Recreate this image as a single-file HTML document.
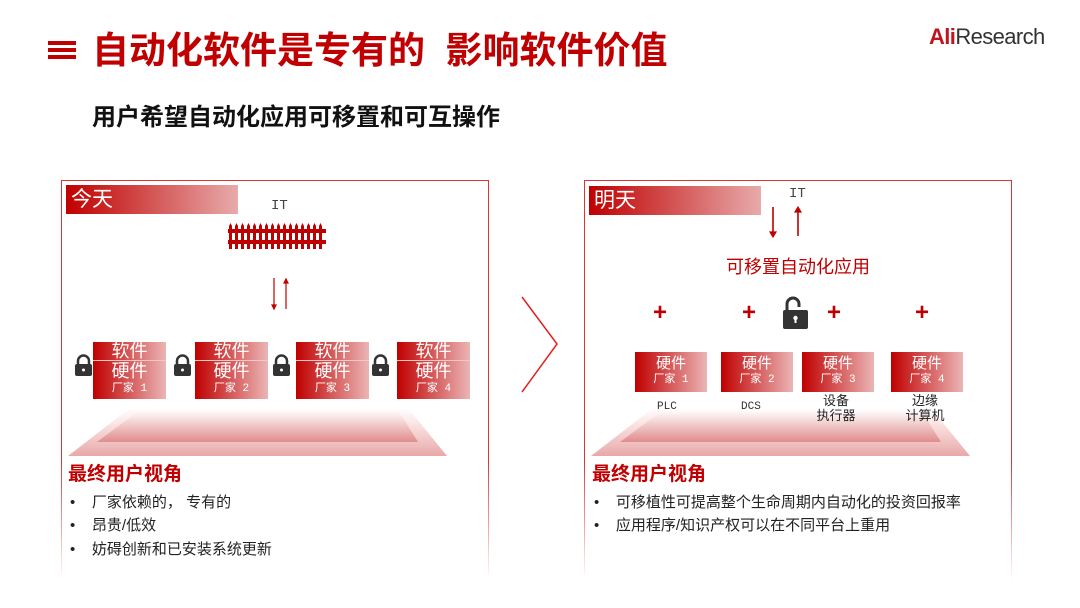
<!DOCTYPE html>
<html><head><meta charset="utf-8"><style>
*{margin:0;padding:0;box-sizing:border-box}
body{width:1080px;height:608px;background:#fff;position:relative;overflow:hidden;font-family:"Liberation Sans","Noto Sans CJK SC",sans-serif}
.a{position:absolute;white-space:nowrap}
.panel{position:absolute;top:180px;width:428px;height:400px;border:1px solid #d33;border-bottom:none;
 -webkit-mask-image:linear-gradient(#000 70%,rgba(0,0,0,0) 100%);mask-image:linear-gradient(#000 70%,rgba(0,0,0,0) 100%)}
.lbl{position:absolute;height:29px;width:172px;background:linear-gradient(90deg,#c00000,#e8aaaa);color:#fff;font-size:21px;line-height:29px;padding-left:5px}
.box{position:absolute;width:73px;background:linear-gradient(90deg,#c00000,#ebb5b5);color:#fff;text-align:center}
.mono{font-family:"Liberation Mono","Noto Sans CJK SC",monospace}
.h{font-size:19px;font-weight:bold;color:#c00000}
.b{font-size:15px;color:#222}
.plus{position:absolute;color:#c00000;font-size:24px;font-weight:bold;line-height:24px}
</style></head><body>
<div class="a" style="left:48px;top:41px;width:28px;height:4px;background:#c00000"></div>
<div class="a" style="left:48px;top:48px;width:28px;height:4px;background:#c00000"></div>
<div class="a" style="left:48px;top:55px;width:28px;height:4px;background:#c00000"></div>
<div class="a" style="left:92px;top:28px;font-size:37px;font-weight:bold;color:#c00000;line-height:46px">自动化软件是专有的&nbsp;&nbsp;影响软件价值</div>
<div class="a" style="left:92px;top:102px;font-size:24px;font-weight:bold;color:#111;line-height:32px">用户希望自动化应用可移置和可互操作</div>
<div class="a" style="left:929px;top:24px;font-size:22px;line-height:26px;color:#333;letter-spacing:-0.6px"><b style="color:#c0141e">Ali</b>Research</div>

<div class="panel" style="left:61px"></div>
<div class="panel" style="left:584px"></div>

<svg class="a" style="left:0;top:0" width="1080" height="608">
 <defs>
  <linearGradient id="tg" x1="0" y1="0" x2="0" y2="1"><stop offset="0" stop-color="#fff"/><stop offset="0.3" stop-color="#fbe6e6"/><stop offset="1" stop-color="#e9a8a8"/></linearGradient>
  <linearGradient id="tg2" x1="0" y1="0" x2="0" y2="1"><stop offset="0" stop-color="#fff"/><stop offset="1" stop-color="#e08c8c"/></linearGradient>
 </defs>
 <polygon points="130,408 408,408 447,456 68,456" fill="url(#tg)"/>
 <polygon points="140,410 398,410 418,442 97,442" fill="url(#tg2)"/>
 <g transform="translate(523,0)">
  <polygon points="130,408 408,408 447,456 68,456" fill="url(#tg)"/>
  <polygon points="140,410 398,410 418,442 97,442" fill="url(#tg2)"/>
 </g>
 <polyline points="522,297 557,344 522,392" fill="none" stroke="#d22" stroke-width="1.5"/>
 <g fill="#c00000">
  <rect x="228" y="229" width="98" height="4"/><rect x="228" y="240" width="98" height="4"/>
  <path d="M229,249 V226 L230.5,223 L232,226 V249Z M235,249 V226 L236.5,223 L238,226 V249Z M241,249 V226 L242.5,223 L244,226 V249Z M247,249 V226 L248.5,223 L250,226 V249Z M253,249 V226 L254.5,223 L256,226 V249Z M259,249 V226 L260.5,223 L262,226 V249Z M265,249 V226 L266.5,223 L268,226 V249Z M271,249 V226 L272.5,223 L274,226 V249Z M277,249 V226 L278.5,223 L280,226 V249Z M283,249 V226 L284.5,223 L286,226 V249Z M289,249 V226 L290.5,223 L292,226 V249Z M295,249 V226 L296.5,223 L298,226 V249Z M301,249 V226 L302.5,223 L304,226 V249Z M307,249 V226 L308.5,223 L310,226 V249Z M313,249 V226 L314.5,223 L316,226 V249Z M319,249 V226 L320.5,223 L322,226 V249Z"/>
 </g>
 <g stroke="#c00000" stroke-width="1.2" fill="#c00000">
  <line x1="274" y1="278" x2="274" y2="306"/><polygon points="272,305 276,305 274,309"/>
  <line x1="286" y1="282" x2="286" y2="309"/><polygon points="284,283 288,283 286,279"/>
  <line x1="773" y1="207" x2="773" y2="233" stroke-width="1.6"/><polygon points="770,232 776,232 773,237"/>
  <line x1="798" y1="211" x2="798" y2="236" stroke-width="1.6"/><polygon points="795,212 801,212 798,207"/>
 </g>
 <g fill="#333">
  <g transform="translate(75,355)"><path d="M3,9 V6 a5.5,5.5 0 0 1 11,0 V9" fill="none" stroke="#333" stroke-width="2.5"/><rect x="0" y="9" width="17" height="12" rx="2"/><circle cx="8.5" cy="15" r="1.5" fill="#fff"/></g>
  <g transform="translate(174,355)"><path d="M3,9 V6 a5.5,5.5 0 0 1 11,0 V9" fill="none" stroke="#333" stroke-width="2.5"/><rect x="0" y="9" width="17" height="12" rx="2"/><circle cx="8.5" cy="15" r="1.5" fill="#fff"/></g>
  <g transform="translate(273,355)"><path d="M3,9 V6 a5.5,5.5 0 0 1 11,0 V9" fill="none" stroke="#333" stroke-width="2.5"/><rect x="0" y="9" width="17" height="12" rx="2"/><circle cx="8.5" cy="15" r="1.5" fill="#fff"/></g>
  <g transform="translate(372,355)"><path d="M3,9 V6 a5.5,5.5 0 0 1 11,0 V9" fill="none" stroke="#333" stroke-width="2.5"/><rect x="0" y="9" width="17" height="12" rx="2"/><circle cx="8.5" cy="15" r="1.5" fill="#fff"/></g>
  <g transform="translate(783,296)"><path d="M4,14 V8 a6,6 0 0 1 12,0 V11" fill="none" stroke="#333" stroke-width="3"/><rect x="0" y="14" width="25" height="19" rx="2"/><circle cx="12.5" cy="22" r="2.2" fill="#fff"/><rect x="11.5" y="22" width="2" height="5" fill="#fff"/></g>
 </g>
</svg>

<div class="lbl" style="left:66px;top:185px">今天</div>
<div class="lbl" style="left:589px;top:186px">明天</div>
<div class="a mono" style="left:271px;top:198px;font-size:14px;color:#444">IT</div>
<div class="a mono" style="left:789px;top:186px;font-size:14px;color:#444">IT</div>

<div class="box" style="left:93px;top:342px;height:57px"><div style="font-size:18px;line-height:18px;border-bottom:1px solid #f0c8c8">软件</div><div style="font-size:18px;line-height:21px">硬件</div><div class="mono" style="font-size:11px;line-height:15px">厂家 1</div></div>
<div class="box" style="left:195px;top:342px;height:57px"><div style="font-size:18px;line-height:18px;border-bottom:1px solid #f0c8c8">软件</div><div style="font-size:18px;line-height:21px">硬件</div><div class="mono" style="font-size:11px;line-height:15px">厂家 2</div></div>
<div class="box" style="left:296px;top:342px;height:57px"><div style="font-size:18px;line-height:18px;border-bottom:1px solid #f0c8c8">软件</div><div style="font-size:18px;line-height:21px">硬件</div><div class="mono" style="font-size:11px;line-height:15px">厂家 3</div></div>
<div class="box" style="left:397px;top:342px;height:57px"><div style="font-size:18px;line-height:18px;border-bottom:1px solid #f0c8c8">软件</div><div style="font-size:18px;line-height:21px">硬件</div><div class="mono" style="font-size:11px;line-height:15px">厂家 4</div></div>

<div class="a" style="left:726px;top:253px;font-size:18px;color:#c00000">可移置自动化应用</div>
<div class="plus" style="left:653px;top:301px">+</div>
<div class="plus" style="left:742px;top:301px">+</div>
<div class="plus" style="left:827px;top:301px">+</div>
<div class="plus" style="left:915px;top:301px">+</div>
<div class="box" style="left:635px;top:352px;height:40px;width:72px;padding-top:3px"><div style="font-size:15px;line-height:17px">硬件</div><div class="mono" style="font-size:11px;line-height:16px">厂家 1</div></div>
<div class="box" style="left:721px;top:352px;height:40px;width:72px;padding-top:3px"><div style="font-size:15px;line-height:17px">硬件</div><div class="mono" style="font-size:11px;line-height:16px">厂家 2</div></div>
<div class="box" style="left:802px;top:352px;height:40px;width:72px;padding-top:3px"><div style="font-size:15px;line-height:17px">硬件</div><div class="mono" style="font-size:11px;line-height:16px">厂家 3</div></div>
<div class="box" style="left:891px;top:352px;height:40px;width:72px;padding-top:3px"><div style="font-size:15px;line-height:17px">硬件</div><div class="mono" style="font-size:11px;line-height:16px">厂家 4</div></div>
<div class="a mono" style="left:657px;top:401px;font-size:11px;color:#333">PLC</div>
<div class="a mono" style="left:741px;top:401px;font-size:11px;color:#333">DCS</div>
<div class="a" style="left:815px;top:393px;font-size:13px;line-height:15px;color:#222;text-align:center;width:42px">设备<br>执行器</div>
<div class="a" style="left:904px;top:393px;font-size:13px;line-height:15px;color:#222;text-align:center;width:42px">边缘<br>计算机</div>

<div class="a h" style="left:68px;top:459px">最终用户视角</div>
<div class="a b" style="left:70px;top:491px">•&nbsp;&nbsp;&nbsp;&nbsp;厂家依赖的， 专有的</div>
<div class="a b" style="left:70px;top:514px">•&nbsp;&nbsp;&nbsp;&nbsp;昂贵/低效</div>
<div class="a b" style="left:70px;top:538px">•&nbsp;&nbsp;&nbsp;&nbsp;妨碍创新和已安装系统更新</div>
<div class="a h" style="left:592px;top:459px">最终用户视角</div>
<div class="a b" style="left:594px;top:491px">•&nbsp;&nbsp;&nbsp;&nbsp;可移植性可提高整个生命周期内自动化的投资回报率</div>
<div class="a b" style="left:594px;top:514px">•&nbsp;&nbsp;&nbsp;&nbsp;应用程序/知识产权可以在不同平台上重用</div>
</body></html>
